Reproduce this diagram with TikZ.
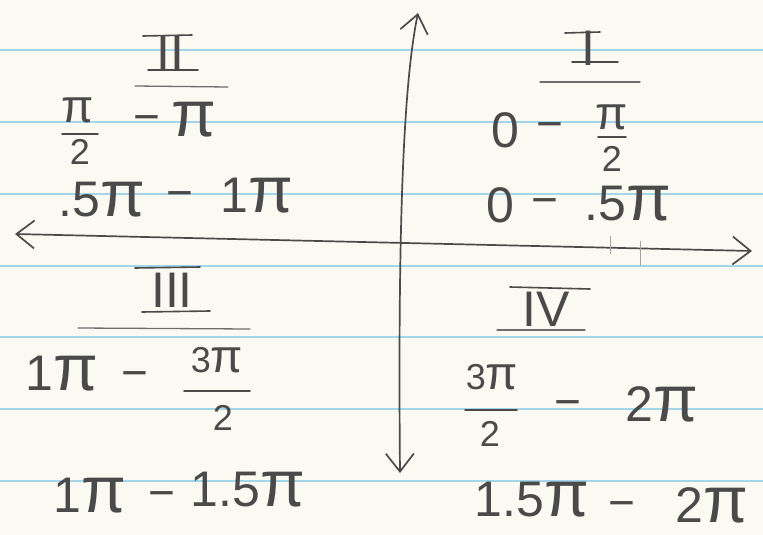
\documentclass[tikz,border=0pt]{standalone}
\usepackage{fontspec}
\setmainfont{Liberation Sans}
\usetikzlibrary{arrows.meta}
\definecolor{paper}{HTML}{FBFAF2}
\definecolor{rulecol}{HTML}{A3D6E8}
\definecolor{pencil}{HTML}{4A4A4A}
\newcommand{\bpi}{\scalebox{1.3}{π}}
\tikzset{
  num/.style={text=pencil, inner sep=0pt, font=\fontsize{50}{54}\selectfont},
  frc/.style={text=pencil, inner sep=0pt, font=\fontsize{36}{40}\selectfont},
  mns/.style={text=pencil, inner sep=0pt, font=\fontsize{46}{50}\selectfont},
  roman/.style={text=pencil, inner sep=0pt, font=\fontsize{50}{54}\selectfont},
  axisline/.style={draw=pencil, line width=1.7pt, line cap=round,
    arrows={Straight Barb[length=18pt,width=28pt,line width=1.7pt]-Straight Barb[length=18pt,width=28pt,line width=1.7pt]}},
  bar/.style={draw=pencil, line width=1.6pt, line cap=round},
  uline/.style={draw=pencil!80, line width=1.3pt, line cap=round},
  ruleline/.style={draw=rulecol, line width=1.3pt},
  tick/.style={draw=pencil!50, line width=0.8pt},
}
\begin{document}
\begin{tikzpicture}[x=1pt,y=-1pt]
\useasboundingbox (0,0) rectangle (763,535);
\fill[paper] (0,0) rectangle (763,535);
% ruled lines
\foreach \yy in {50,122,194,266,337,409,481}
  \draw[ruleline] (0,\yy) -- (763,\yy);

% axes
\coordinate (top) at (418,13);
\coordinate (bot) at (400,473);
\coordinate (lft) at (15,234);
\coordinate (rgt) at (752,251);
\draw[axisline] (bot) .. controls (398,250) and (402,90) .. (top);
\draw[axisline] (lft) -- (rgt);
\draw[tick] (610,236) -- (610,254);
\draw[tick] (640,241) -- (640,266);

% quadrant numerals
\node[roman] (n2) at (170,53) {II};
\node[roman] (n1) at (588,48) {I};
\node[roman] (n3) at (172,290) {III};
\node[roman] (n4) at (546,309) {IV};
\draw[bar] (143,36) -- (192,35);
\draw[bar] (148,70) -- (198,70);
\draw[bar] (565,33) -- (600,32);
\draw[bar] (572,62) -- (618,62);
\draw[bar] (135,268) -- (200,267);
\draw[bar] (142,312) -- (210,311);
\draw[bar] (510,287) -- (590,289);
\draw[uline] (135,86) -- (228,87);
\draw[uline] (540,82) -- (640,82);
\draw[uline] (78,328) -- (250,329);
\draw[uline] (497,330) -- (585,330);

% quadrant II
\node[frc] (a1n) at (78,110) {\bpi};
\node[frc] (a1d) at (80,152) {2};
\draw[bar] (62,134) -- (98,134);
\node[mns] (a2) at (147,124) {−};
\node[num] (a3) at (194,120) {\bpi};
\node[num] (b1) at (102,200) {.5\bpi};
\node[mns] (b2) at (180,200) {−};
\node[num] (b3) at (257,196) {1\bpi};

% quadrant I
\node[num] (c1) at (505,130) {0};
\node[mns] (c2) at (550,131) {−};
\node[frc] (c3n) at (612,117) {\bpi};
\node[frc] (c3d) at (612,159) {2};
\draw[bar] (598,137) -- (626,137);
\node[num] (d1) at (500,205) {0};
\node[mns] (d2) at (545,207) {−};
\node[num] (d3) at (628,204) {.5\bpi};

% quadrant III
\node[num] (e1) at (62,374) {1\bpi};
\node[mns] (e2) at (135,380) {−};
\node[frc] (e3n) at (217,360) {3\bpi};
\node[frc] (e3d) at (223,418) {2};
\draw[bar] (184,391) -- (250,391);
\node[num] (f1) at (90,496) {1\bpi};
\node[mns] (f2) at (162,500) {−};
\node[num] (f3) at (248,490) {1.5\bpi};

% quadrant IV
\node[frc] (g1n) at (492,377) {3\bpi};
\node[frc] (g1d) at (490,434) {2};
\draw[bar] (465,410) -- (517,410);
\node[mns] (g2) at (568,409) {−};
\node[num] (g3) at (662,404) {2\bpi};
\node[num] (h1) at (532,500) {1.5\bpi};
\node[mns] (h2) at (622,510) {−};
\node[num] (h3) at (712,505) {2\bpi};
\end{tikzpicture}
\end{document}
